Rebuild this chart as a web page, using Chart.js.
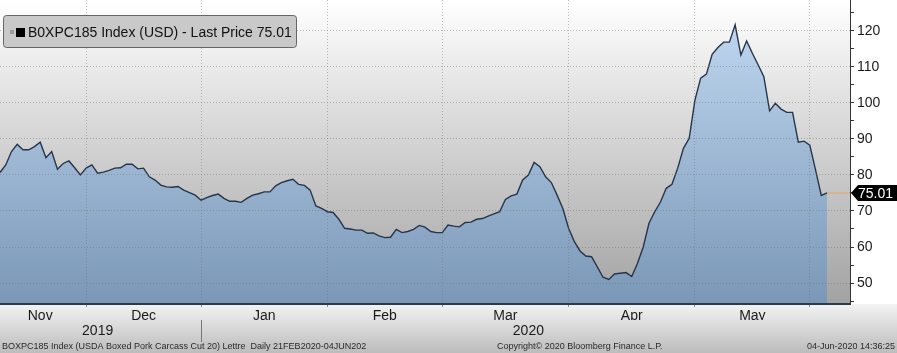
<!DOCTYPE html>
<html>
<head>
<meta charset="utf-8">
<script src="https://cdn.jsdelivr.net/npm/chart.js@4.4.1/dist/chart.umd.min.js"></script>
<style>
  html, body { margin: 0; padding: 0; background: #fff; }
  #wrap { width: 897px; height: 353px; position: relative; }
</style>
</head>
<body>
<div id="wrap"><canvas id="chart" width="897" height="353"></canvas></div>
<script>
// trading days shown (weekdays, report holidays dropped)
const startDay = '2019-11-08';
const endDay = '2020-06-04';
const skipDays = ['2019-11-28', '2019-12-24', '2019-12-25', '2020-01-01', '2020-05-25'];
// empty slots right of the last print (axis runs a bit past the data)
const padDays = ['2020-06-05', '2020-06-08', '2020-06-09', '2020-06-10'];

// BOXPC185 daily close
const prices = [
  80.7, 82.8, 86.5, 88.5, 87.0, 87.0, 87.9, 89.1, 84.8, 86.5,
  81.6, 83.2, 83.9, 82.0, 80.0, 81.9, 82.8, 80.5, 80.8, 81.3,
  81.9, 82.0, 83.0, 83.0, 81.7, 81.9, 79.5, 78.6, 77.2, 76.7,
  76.6, 76.8, 75.8, 75.1, 74.4, 73.0, 73.7, 74.3, 74.7, 73.5,
  72.7, 72.7, 72.4, 73.5, 74.4, 74.8, 75.3, 75.3, 77.0, 77.9,
  78.4, 78.8, 77.4, 77.1, 75.8, 71.4, 70.7, 69.8, 69.6, 67.7,
  65.2, 65.0, 64.7, 64.7, 63.8, 63.9, 63.1, 62.6, 62.7, 64.9,
  64.0, 64.3, 64.9, 66.0, 65.5, 64.3, 64.0, 64.0, 66.1, 65.8,
  65.6, 66.8, 66.9, 67.7, 67.9, 68.6, 69.2, 69.8, 73.2, 74.2,
  74.7, 78.6, 80.0, 83.5, 82.3, 79.5, 77.9, 74.4, 70.7, 65.2,
  61.5, 58.9, 57.5, 57.3, 54.5, 51.6, 51.0, 52.5, 52.7, 52.9,
  51.8, 55.5, 60.0, 66.6, 69.8, 72.5, 76.3, 77.4, 81.9, 87.4,
  90.2, 100.8, 106.9, 108.0, 113.5, 115.4, 116.9, 116.9, 121.7, 113.3,
  117.2, 113.8, 110.6, 107.3, 97.8, 99.9, 98.3, 97.4, 97.4, 89.1,
  89.4, 88.3, 81.4, 74.3, 75.01
];
const lastPrice = 75.01;

const monthKeys = ['2019-11', '2019-12', '2020-01', '2020-02', '2020-03', '2020-04', '2020-05'];
const monthText = ['Nov', 'Dec', 'Jan', 'Feb', 'Mar', 'Apr', 'May'];
const yearKeys = ['2019', '2020'];
const yTicks = [45, 50, 55, 60, 65, 70, 75, 80, 85, 90, 95, 100, 105, 110, 115, 120, 125];
const yMin = 44.17;
const yMax = 128.6;

function businessDays(from, to, skip) {
  const out = [];
  const d = new Date(from + 'T00:00:00Z');
  const end = new Date(to + 'T00:00:00Z');
  while (d <= end) {
    const iso = d.toISOString().slice(0, 10);
    const wd = d.getUTCDay();
    if (wd !== 0 && wd !== 6 && !skip.includes(iso)) out.push(iso);
    d.setUTCDate(d.getUTCDate() + 1);
  }
  return out;
}

const dates = businessDays(startDay, endDay, skipDays);
const labels = dates.concat(padDays);

// first index of a key, and the index in the middle of its span
function span(key) {
  let f = -1, l = -1;
  labels.forEach((d, i) => {
    if (d.startsWith(key)) { if (f < 0) f = i; l = i; }
  });
  return { first: f, mid: Math.floor((f + l + 1) / 2) };
}
const monthSpans = monthKeys.map(span);
const yearSpans = yearKeys.map(span);
// month boundaries (Dec .. Jun), the first month starts at the left edge
const monthStarts = monthSpans.slice(1).map(s => s.first).concat([span('2020-06').first]);
const yearStart = yearSpans[1].first;

const lastLine = labels.map((d, i) => i >= prices.length - 1 ? lastPrice : null);

const FONT = "'Liberation Sans', Arial, sans-serif";

const backdrop = {
  id: 'backdrop',
  beforeDraw(chart) {
    const { ctx, chartArea: a, width, height } = chart;
    ctx.save();
    ctx.fillStyle = '#ffffff';
    ctx.fillRect(0, 0, width, height);
    let g = ctx.createLinearGradient(0, a.bottom, 0, height);
    g.addColorStop(0, '#f3f3f3');
    g.addColorStop(1, '#bcbcbc');
    ctx.fillStyle = g;
    ctx.fillRect(0, a.bottom, width, height - a.bottom);
    g = ctx.createLinearGradient(0, a.top, 0, a.bottom);
    g.addColorStop(0, '#ffffff');
    g.addColorStop(1, '#a2a2a2');
    ctx.fillStyle = g;
    ctx.fillRect(a.left, a.top, a.right - a.left, a.bottom - a.top);
    ctx.restore();
  },
  afterDraw(chart) {
    const { ctx, chartArea: a, width } = chart;
    const y = chart.scales.y.getPixelForValue(lastPrice);
    ctx.save();
    // last price tag on the axis
    ctx.fillStyle = '#000';
    ctx.beginPath();
    ctx.moveTo(a.right + 1, y);
    ctx.lineTo(a.right + 8, y - 8);
    ctx.lineTo(width, y - 8);
    ctx.lineTo(width, y + 8);
    ctx.lineTo(a.right + 8, y + 8);
    ctx.closePath();
    ctx.fill();
    ctx.fillStyle = '#fff';
    ctx.font = '14px ' + FONT;
    ctx.textBaseline = 'middle';
    ctx.fillText(lastPrice.toFixed(2), a.right + 8, y + 1);

    // legend box
    ctx.beginPath();
    ctx.roundRect(3.5, 15.5, 293, 32, 3);
    ctx.fillStyle = '#c9c9c9';
    ctx.fill();
    ctx.strokeStyle = '#666';
    ctx.lineWidth = 1;
    ctx.stroke();
    ctx.fillStyle = '#9a9a9a';
    ctx.fillRect(10, 30, 4, 4);
    ctx.fillStyle = '#000';
    ctx.fillRect(16, 28, 9, 9);
    ctx.fillStyle = '#111';
    ctx.font = '14px ' + FONT;
    ctx.fillText('B0XPC185 Index (USD) - Last Price 75.01', 28, 33);

    // footer
    ctx.font = '9px ' + FONT;
    ctx.fillStyle = '#2a2a2a';
    ctx.fillText('BOXPC185 Index (USDA Boxed Pork Carcass Cut 20) Lettre  Daily 21FEB2020-04JUN202', 2, 347);
    ctx.fillText('Copyright\u00a9 2020 Bloomberg Finance L.P.', 497, 347);
    ctx.textAlign = 'right';
    ctx.fillText('04-Jun-2020 14:36:25', 895, 347);
    ctx.restore();
  }
};

new Chart(document.getElementById('chart'), {
  type: 'line',
  data: {
    labels: labels,
    datasets: [
      {
        data: prices,
        borderColor: '#26354a',
        borderWidth: 1.4,
        pointRadius: 0,
        tension: 0,
        fill: 'start',
        backgroundColor: function(context) {
          const a = context.chart.chartArea;
          if (!a) return 'rgba(150,180,215,0.8)';
          const g = context.chart.ctx.createLinearGradient(0, a.top, 0, a.bottom);
          g.addColorStop(0, '#c4dbf3');
          g.addColorStop(1, '#7a97b7');
          return g;
        }
      },
      {
        data: lastLine,
        borderColor: '#e9a35a',
        borderWidth: 1,
        pointRadius: 0,
        fill: false
      }
    ]
  },
  options: {
    responsive: false,
    animation: false,
    devicePixelRatio: 1,
    layout: { padding: 0 },
    plugins: { legend: { display: false }, tooltip: { enabled: false } },
    scales: {
      x: {
        type: 'category',
        offset: false,
        afterFit(scale) { scale.height = 16; scale.paddingLeft = 0; scale.paddingRight = 0; },
        border: { color: '#2c3a4a', width: 2, dash: [1, 2], z: 1 },
        grid: {
          z: 1,
          color: ctx => monthStarts.includes(ctx.index) ? 'rgba(110,110,110,0.45)' : 'transparent',
          tickColor: ctx => monthStarts.includes(ctx.index) ? '#8a8a8a' : 'transparent',
          tickLength: 3
        },
        ticks: {
          autoSkip: false,
          maxRotation: 0,
          padding: 1,
          color: '#1a1a1a',
          font: { family: FONT, size: 14 },
          callback: function(v, i) {
            const k = monthSpans.findIndex(s => s.mid === i);
            return k >= 0 ? monthText[k] : '';
          }
        }
      },
      xYear: {
        type: 'category',
        position: 'bottom',
        offset: false,
        afterFit(scale) { scale.height = 33; scale.paddingLeft = 0; scale.paddingRight = 0; },
        border: { display: false },
        grid: {
          drawOnChartArea: false,
          color: ctx => ctx.index === yearStart ? '#777' : 'transparent',
          tickColor: ctx => ctx.index === yearStart ? '#777' : 'transparent',
          tickLength: 22
        },
        ticks: {
          autoSkip: false,
          maxRotation: 0,
          padding: -19,
          color: '#1a1a1a',
          font: { family: FONT, size: 14 },
          callback: function(v, i) {
            const k = yearSpans.findIndex(s => s.mid === i);
            return k >= 0 ? yearKeys[k] : '';
          }
        }
      },
      y: {
        position: 'right',
        min: yMin,
        max: yMax,
        afterFit(scale) { scale.width = 47; scale.paddingTop = 0; scale.paddingBottom = 0; },
        afterBuildTicks(scale) { scale.ticks = yTicks.map(v => ({ value: v })); },
        border: { color: '#333', width: 1, dash: [1, 2], z: 1 },
        grid: {
          z: 1,
          color: ctx => ctx.tick && ctx.tick.value % 10 === 0 ? 'rgba(110,110,110,0.45)' : 'transparent',
          tickColor: '#333',
          tickLength: 4
        },
        ticks: {
          autoSkip: false,
          padding: 3,
          color: '#1a1a1a',
          font: { family: FONT, size: 14 },
          callback: v => v % 10 === 0 ? String(v) : ''
        }
      }
    }
  },
  plugins: [backdrop]
});
</script>
</body>
</html>
